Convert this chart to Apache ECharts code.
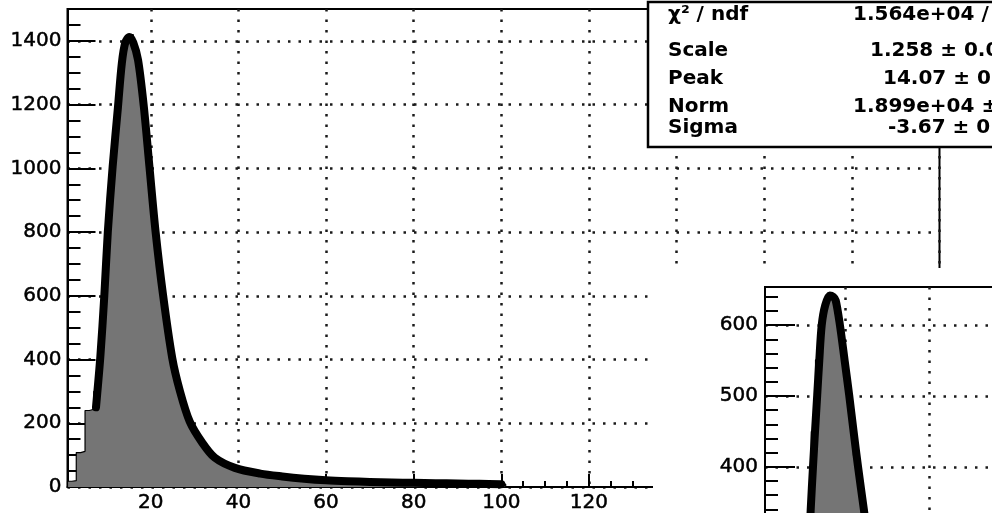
<!DOCTYPE html>
<html>
<head>
<meta charset="utf-8">
<script src="https://cdn.jsdelivr.net/npm/echarts@6/dist/echarts.min.js"></script>
<style>
html,body{margin:0;padding:0;background:#fff;}
#chart{width:992px;height:513px;}
</style>
</head>
<body>
<div id="chart"></div>
<script>
// ---------- data ----------
const xTickLabels = [20, 40, 60, 80, 100, 120, 140, 160, 180, 200];
const yTickLabels = [0, 200, 400, 600, 800, 1000, 1200, 1400];
const insetYTickLabels = [0, 100, 200, 300, 400, 500, 600];

// main histogram: bins of width 1 starting at 1
const mainBinLow = 1;
const mainBinWidth = 1;
const mainCounts = [
  18, 20, 108, 112, 240, 244, 300, 420, 610, 850,
  1040, 1190, 1340, 1405, 1420, 1380, 1300, 1185, 1035, 890,
  755, 635, 530, 440, 365, 305, 255, 215, 185, 160,
  142, 124, 108, 95, 86, 78, 71, 65, 61, 57,
  54, 50, 47, 44, 42, 40, 38, 36, 34, 33,
  31, 30, 29, 28, 26, 25, 24, 23, 22, 21,
  21, 20, 20, 19, 19, 18, 18, 17, 17, 16,
  16, 16, 15, 15, 15, 14, 14, 14, 13, 13,
  13, 13, 12, 12, 12, 12, 11, 11, 11, 11,
  11, 10, 10, 10, 10, 9, 9, 9, 9, 9
];

// fitted curve on the main histogram
const fitX = [7.5, 8.5, 9.4, 10.2, 11.3, 12.5, 13.4, 14.2, 15.1, 16.0, 17.1, 18.4, 19.7, 21.1, 22.8, 24.9, 26.7, 28.9, 31.7, 34.6, 39.2, 45, 50, 55, 60, 65, 70, 75, 80, 85, 90, 95, 100];
const fitY = [250, 410, 600, 800, 1005, 1190, 1330, 1395, 1412, 1395, 1340, 1196, 1005, 801, 603, 405, 299, 205, 140, 92, 60, 42, 33, 26, 21, 18, 16, 14, 13, 12, 11, 10, 9];

// inset histogram: bins of width 1 starting at 10
const insetBinLow = 10;
const insetBinWidth = 1;
const insetCounts = [120, 250, 450, 551, 600, 630, 645, 640, 605, 565, 520, 475, 416, 370, 330, 290, 250, 210, 180, 150];

// inset fitted curve
const insetFitX = [10.5, 11.2, 11.85, 12.4, 12.9, 13.4, 13.9, 14.47, 15.3, 16.4, 17.2, 17.8, 18.8, 19.9, 21.0, 22.0, 23.1, 24.5, 26.5, 30];
const insetFitY = [150, 250, 339, 400, 452, 501, 551, 600, 628, 642, 640, 635, 600, 551, 501, 452, 400, 339, 250, 150];

const statNames = ['χ² / ndf', 'Scale', 'Peak', 'Norm', 'Sigma'];
const statValues = ['1.564e+04 /', '1.258 ± 0.0', '14.07 ± 0.', '1.899e+04 ±', '-3.67 ± 0.'];

// ---------- helpers ----------
function stepPoints(low, w, counts) {
  const p = [[low, 0]];
  counts.forEach((c, i) => { p.push([low + i * w, c]); p.push([low + (i + 1) * w, c]); });
  p.push([low + counts.length * w, 0]);
  return p;
}
function zip(a, b) { return a.map((v, i) => [v, b[i]]); }
function minorTicks(lo, hi, step, majorStep) {
  const r = [];
  for (let v = lo; v <= hi + 1e-9; v += step) if (Math.abs(v / majorStep - Math.round(v / majorStep)) > 1e-6) r.push(v);
  return r;
}
const plain = v => String(v);

const FONT = 'DejaVu Sans';
const dotLine = { color: '#1a1a1a', width: 2.5, type: [2.5, 8] };
const black2 = { color: '#000', width: 2 };
const labelStyle = { fontFamily: FONT, fontSize: 20, color: '#000', textBorderColor: '#000', textBorderWidth: 0.5 };

const chart = echarts.init(document.getElementById('chart'), null, { renderer: 'canvas' });

const option = {
  animation: false,
  backgroundColor: '#fff',
  grid: [
    { left: 67.5, top: 9, width: 872, height: 478, show: true, borderColor: '#000', borderWidth: 2, z: 0, containLabel: false, outerBoundsMode: 'none' },
    { left: 765, top: 287, width: 837.8, height: 463, show: true, borderColor: '#000', borderWidth: 2, z: 11, containLabel: false, outerBoundsMode: 'none' }
  ],
  xAxis: [
    { gridIndex: 0, type: 'value', min: 1, max: 200, splitNumber: 10, position: 'bottom', z: 0,
      axisLine: { lineStyle: black2 },
      axisTick: { inside: true, length: 13, lineStyle: black2, customValues: xTickLabels },
      axisLabel: Object.assign({ customValues: xTickLabels, formatter: plain, margin: 6 }, labelStyle),
      splitLine: { show: true, lineStyle: dotLine } },
    { gridIndex: 0, type: 'value', min: 1, max: 200, position: 'bottom', offset: 0, z: 0,
      axisLine: { show: false },
      axisTick: { inside: true, length: 6, lineStyle: black2, customValues: minorTicks(5, 195, 5, 20) },
      axisLabel: { show: false }, splitLine: { show: false } },
    { gridIndex: 1, type: 'value', min: 1, max: 200, splitNumber: 10, position: 'bottom', z: 12,
      axisLine: { lineStyle: black2 },
      axisTick: { inside: true, length: 13, lineStyle: black2, customValues: xTickLabels },
      axisLabel: Object.assign({ customValues: xTickLabels, formatter: plain, margin: 6 }, labelStyle),
      splitLine: { show: true, lineStyle: dotLine } }
  ],
  yAxis: [
    { gridIndex: 0, type: 'value', min: 0, max: 1500, interval: 200, position: 'left', z: 0,
      axisLine: { lineStyle: black2 },
      axisTick: { inside: true, length: 28, lineStyle: black2, customValues: yTickLabels },
      axisLabel: Object.assign({ customValues: yTickLabels, formatter: plain, margin: 6 }, labelStyle),
      splitLine: { show: true, lineStyle: dotLine } },
    { gridIndex: 0, type: 'value', min: 0, max: 1500, position: 'left', offset: 0, z: 0,
      axisLine: { show: false },
      axisTick: { inside: true, length: 13, lineStyle: black2, customValues: minorTicks(50, 1450, 50, 200) },
      axisLabel: { show: false }, splitLine: { show: false } },
    { gridIndex: 1, type: 'value', min: 0, max: 654, interval: 100, position: 'left', z: 12,
      axisLine: { lineStyle: black2 },
      axisTick: { inside: true, length: 30, lineStyle: black2, customValues: insetYTickLabels },
      axisLabel: Object.assign({ customValues: insetYTickLabels, formatter: plain, margin: 7 }, labelStyle),
      splitLine: { show: true, lineStyle: dotLine } },
    { gridIndex: 1, type: 'value', min: 0, max: 654, position: 'left', offset: 0, z: 12,
      axisLine: { show: false },
      axisTick: { inside: true, length: 13, lineStyle: black2, customValues: minorTicks(20, 640, 20, 100) },
      axisLabel: { show: false }, splitLine: { show: false } }
  ],
  series: [
    { type: 'line', xAxisIndex: 0, yAxisIndex: 0, data: stepPoints(mainBinLow, mainBinWidth, mainCounts),
      showSymbol: false, z: 2, lineStyle: { color: '#000', width: 1.2 },
      areaStyle: { color: '#757575', opacity: 1 } },
    { type: 'line', xAxisIndex: 0, yAxisIndex: 0, data: zip(fitX, fitY), smooth: 0.3,
      showSymbol: false, z: 3, lineStyle: { color: '#000', width: 8, cap: 'round', join: 'round' } },
    { type: 'line', xAxisIndex: 2, yAxisIndex: 2, data: stepPoints(insetBinLow, insetBinWidth, insetCounts),
      showSymbol: false, z: 13, lineStyle: { color: '#000', width: 1.2 },
      areaStyle: { color: '#757575', opacity: 1 } },
    { type: 'line', xAxisIndex: 2, yAxisIndex: 2, data: zip(insetFitX, insetFitY), smooth: 0.3,
      showSymbol: false, z: 14, lineStyle: { color: '#000', width: 8, cap: 'round', join: 'round' } }
  ],
  graphic: [
    { type: 'rect', z: 10, shape: { x: 653, y: 268, width: 400, height: 300 }, style: { fill: '#fff' } },
    { type: 'rect', z: 30, shape: { x: 648, y: 2, width: 400, height: 145 }, style: { fill: '#fff', stroke: '#000', lineWidth: 2.5 } }
  ]
};

const rowY = [15, 51, 79, 107, 128];
const valX = [853, 870, 883, 853, 888];
statNames.forEach((n, i) => {
  option.graphic.push({ type: 'text', z: 31, style: { text: n, x: 668, y: rowY[i], font: 'bold 20px "DejaVu Sans"', fill: '#000', verticalAlign: 'middle', textVerticalAlign: 'middle' } });
  option.graphic.push({ type: 'text', z: 31, style: { text: statValues[i], x: valX[i], y: rowY[i], font: 'bold 20px "DejaVu Sans"', fill: '#000', verticalAlign: 'middle', textVerticalAlign: 'middle' } });
});

chart.setOption(option);
</script>
</body>
</html>
